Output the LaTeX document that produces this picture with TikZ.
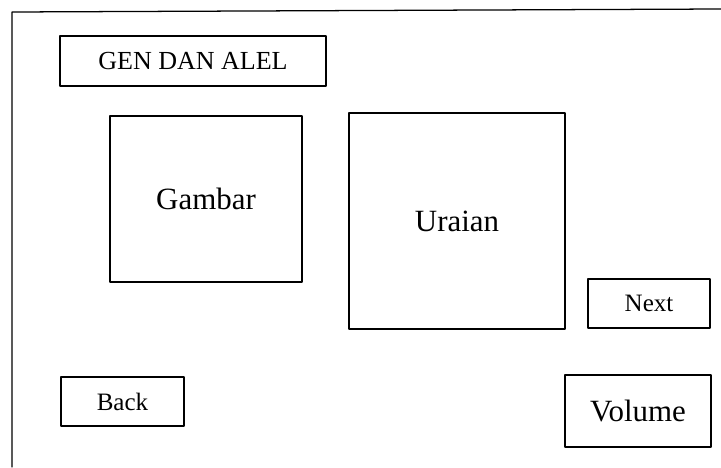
\documentclass[tikz,border=0pt]{standalone}
\usepackage{fontspec}
\setmainfont{Liberation Serif}
\begin{document}
\begin{tikzpicture}[x=0.025cm, y=-0.025cm, line join=round, line cap=round,
    kotak/.style 2 args={draw, line width=0.8pt, inner sep=0pt,
      minimum width={#1*0.025cm}, minimum height={#2*0.025cm}},
    besar/.style={font=\fontsize{22}{26}\selectfont},
    sedang/.style={font=\fontsize{18.5}{22}\selectfont},
    kecil/.style={font=\fontsize{17.8}{21}\selectfont}]
  \useasboundingbox (0,0) rectangle (721,467);
  % bingkai layar
  \draw[line width=0.9pt] (12,467) -- (12,12) -- (721,9);
  \node[kotak={266}{50}, sedang] (judul) at (193,61) {GEN DAN ALEL};
  \node[kotak={192}{166}, besar] (gambar) at (206,199) {Gambar};
  \node[kotak={216}{216}, besar] (uraian) at (457,221) {Uraian};
  \node[kotak={122}{49}, kecil] (next) at (649,303.5) {Next};
  \node[kotak={123}{49}, kecil] (back) at (122.5,401.5) {Back};
  \node[kotak={146}{72}, besar] (volume) at (638,411) {Volume};
\end{tikzpicture}
\end{document}
